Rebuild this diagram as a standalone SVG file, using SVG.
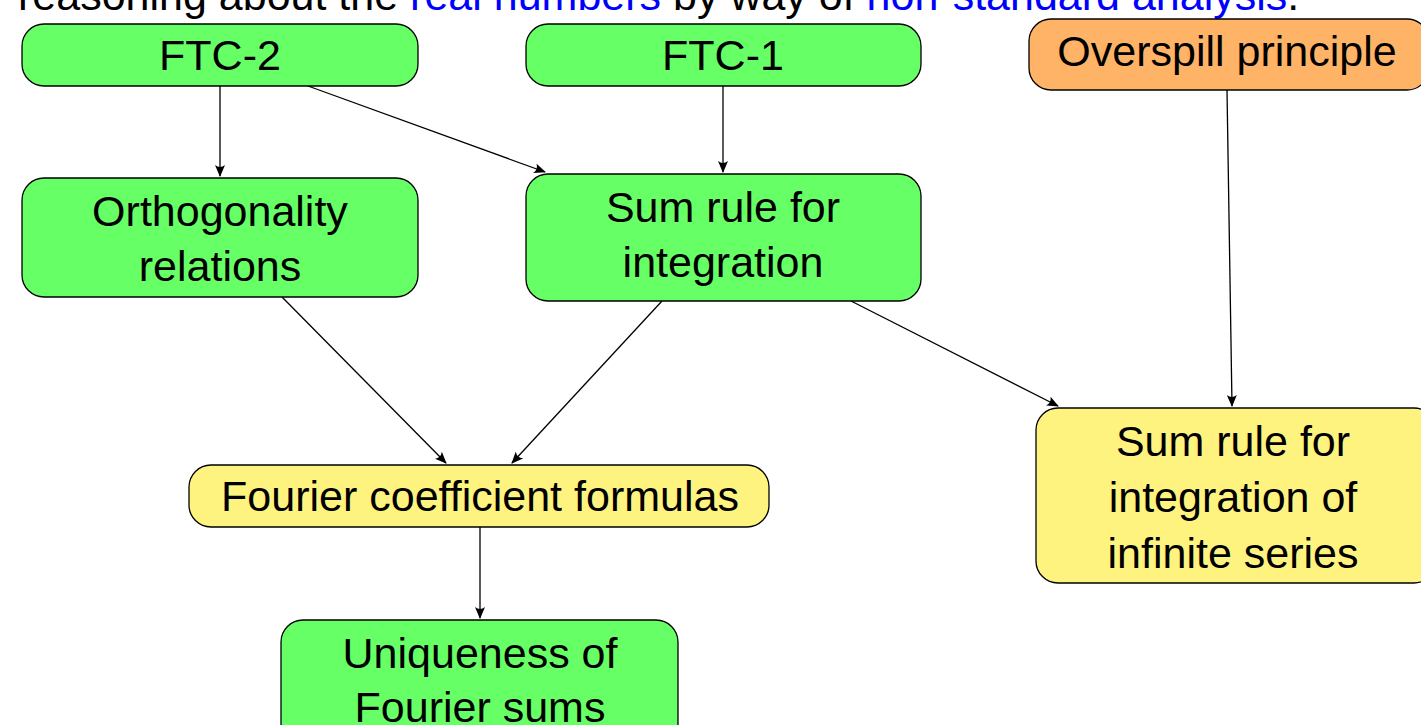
<svg xmlns="http://www.w3.org/2000/svg" width="1421" height="725" viewBox="0 0 1421 725">
<style>
.t{font-family:"Liberation Sans",Arial,sans-serif;font-size:43px;fill:#000;text-anchor:middle}
.hdr{font-family:"Liberation Sans",Arial,sans-serif;font-size:43px;fill:#000}
.lnk{fill:#0000ff}
.g{fill:#66ff66;stroke:#000;stroke-width:1.3}
.y{fill:#fff380;stroke:#000;stroke-width:1.3}
.o{fill:#ffb366;stroke:#000;stroke-width:1.3}
.e{stroke:#000;stroke-width:1.3;fill:none;marker-end:url(#ah)}
</style>
<defs>
<marker id="ah" viewBox="0 0 12 10" refX="11" refY="5" markerWidth="12" markerHeight="10" markerUnits="userSpaceOnUse" orient="auto">
<path d="M0,0 Q4,5 0,10 L12,5 Z" fill="#000"/>
</marker>
</defs>
<rect width="1421" height="725" fill="#fff"/>
<text class="hdr" x="18" y="10">reasoning about the <tspan class="lnk">real numbers</tspan> by way of <tspan class="lnk">non-standard analysis</tspan>.</text>
<g id="connectors">
<path class="e" d="M220,86 L220,176"/>
<path class="e" d="M308,86 L545,172"/>
<path class="e" d="M723,86 L723,172"/>
<path class="e" d="M1227,90 L1232,406"/>
<path class="e" d="M282,297 L446,463"/>
<path class="e" d="M662,301 L512,463"/>
<path class="e" d="M851,301 L1058,406"/>
<path class="e" d="M480,527 L480,618"/>
</g>
<g id="ftc2"><rect class="g" x="22" y="24" width="396" height="62" rx="22"/><text class="t" x="220" y="70">FTC-2</text></g>
<g id="ftc1"><rect class="g" x="526" y="24" width="395" height="62" rx="22"/><text class="t" x="723" y="70">FTC-1</text></g>
<g id="overspill"><rect class="o" x="1029" y="19" width="400" height="71" rx="22"/><text class="t" x="1227" y="66">Overspill principle</text></g>
<g id="orth"><rect class="g" x="22" y="178" width="396" height="119" rx="22"/><text class="t" x="220" y="226">Orthogonality</text><text class="t" x="220" y="281">relations</text></g>
<g id="sumrule"><rect class="g" x="526" y="174" width="395" height="127" rx="22"/><text class="t" x="723" y="222">Sum rule for</text><text class="t" x="723" y="277">integration</text></g>
<g id="fourier"><rect class="y" x="189" y="465" width="580" height="62" rx="22"/><text class="t" x="480" y="511">Fourier coefficient formulas</text></g>
<g id="unique"><rect class="g" x="281" y="620" width="397" height="130" rx="22"/><text class="t" x="480" y="668">Uniqueness of</text><text class="t" x="480" y="722">Fourier sums</text></g>
<g id="suminf"><rect class="y" x="1036" y="408" width="400" height="175" rx="22"/><text class="t" x="1233" y="456">Sum rule for</text><text class="t" x="1233" y="512">integration of</text><text class="t" x="1233" y="568">infinite series</text></g>
</svg>
